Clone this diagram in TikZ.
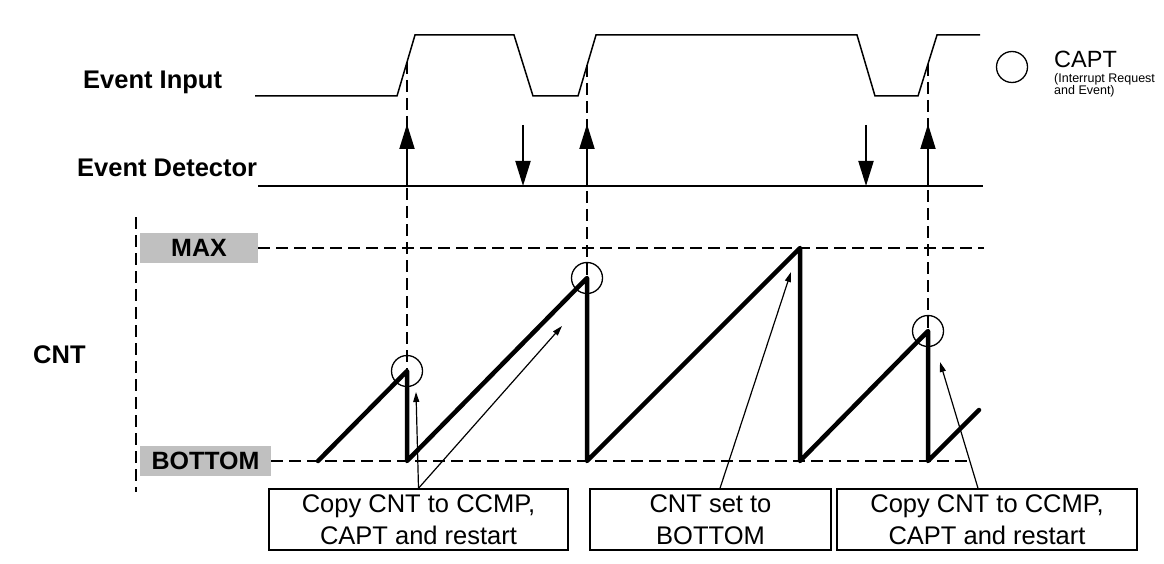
\documentclass[tikz,border=0pt]{standalone}
\usepackage{fontspec}
\setmainfont{Liberation Sans}
\usetikzlibrary{arrows.meta}
\definecolor{lblgray}{RGB}{192,192,192}
\begin{document}
\begin{tikzpicture}[x=1pt,y=-1pt,
  wave/.style={line width=1.5pt},
  detline/.style={line width=2pt},
  guide/.style={line width=1.3pt,dash pattern=on 12pt off 6pt},
  saw/.style={line width=4.5pt,line join=round,line cap=round},
  evup/.style={line width=2pt,-{Triangle[length=25pt,width=15pt]}},
  callout/.style={line width=1.2pt,-{Triangle[length=10pt,width=6pt]}},
  capt/.style={circle,draw,line width=1.3pt,minimum size=31pt,inner sep=0pt},
  biglbl/.style={inner sep=0pt,font=\fontsize{25.5}{30}\selectfont\bfseries},
  graybox/.style={fill=lblgray,inner sep=0pt,minimum height=30pt,font=\fontsize{25}{30}\selectfont\bfseries},
  notebox/.style={draw,line width=1.5pt,inner sep=0pt,minimum height=61pt,align=center,font=\fontsize{25.5}{32}\selectfont}
]
\useasboundingbox (0,0) rectangle (1164,564);

% labels
\node[biglbl,anchor=base west] (lin) at (83,89) {Event Input};
\node[biglbl,anchor=base west] (ldet) at (77,177) {Event Detector};
\node[biglbl,anchor=base west] (lcnt) at (33,363) {CNT};
\node[graybox,minimum width=118pt] (lmax) at (199,248) {MAX};
\node[graybox,minimum width=131pt] (lbot) at (205.5,461) {BOTTOM};

% legend
\node[capt] (legc) at (1012,67) {};
\node[inner sep=0pt,anchor=base west,font=\fontsize{23.5}{25}\selectfont] (legt) at (1054,68) {CAPT};
\node[inner sep=0pt,anchor=base west,align=left,font=\fontsize{12.5}{11}\selectfont] (legs) at (1054,95) {(Interrupt Request\\and Event)};

% event input waveform
\draw[wave] (255,96) -- (397,96) -- (415,35) -- (514,35) -- (533,96) -- (578,96) -- (596,35)
  -- (857,35) -- (875,96) -- (918,96) -- (937,35) -- (980,35);

% event detector
\draw[detline] (258,186) -- (983,186);
\draw[evup] (407,186) -- (407,124);
\draw[evup] (587,186) -- (587,124);
\draw[evup] (928,186) -- (928,124);
\draw[evup] (523,125) -- (523,186);
\draw[evup] (866,125) -- (866,186);

% CNT guides
\draw[guide] (136,217) -- (136,492);
\draw[guide] (lmax.east) -- (984,248);
\draw[guide] (lbot.east) -- (972,461);

% capture circles
\node[capt] (c1) at (407,371) {};
\node[capt] (c2) at (587,278) {};
\node[capt] (c3) at (928,331) {};

% vertical dashed event guides
\draw[guide] (407,62) -- (c1.center);
\draw[guide] (587,65) -- (c2.center);
\draw[guide] (928,64) -- (c3.center);

% sawtooth
\draw[saw] (318,461) -- (c1.center) -- (407,461) -- (c2.center) -- (587,461) -- (800,248)
  -- (800,461) -- (c3.center) -- (928,461) -- (979,410);

% note boxes
\node[notebox,minimum width=299pt] (b1) at (418.5,519.5) {Copy CNT to CCMP,\\CAPT and restart};
\node[notebox,minimum width=241pt] (b2) at (710.5,519.5) {CNT set to\\BOTTOM};
\node[notebox,minimum width=300pt] (b3) at (987,519.5) {Copy CNT to CCMP,\\CAPT and restart};

% callout targets
\coordinate (t1) at (416,392);
\coordinate (t2) at (562,326);
\coordinate (t3) at (791,272);
\coordinate (t4) at (940,362);

\draw[callout] (b1.north) -- (t1);
\draw[callout] (b1.north) -- (t2);
\draw[callout] ([xshift=9.5pt]b2.north) -- (t3);
\draw[callout] ([xshift=-9pt]b3.north) -- (t4);
\end{tikzpicture}
\end{document}
